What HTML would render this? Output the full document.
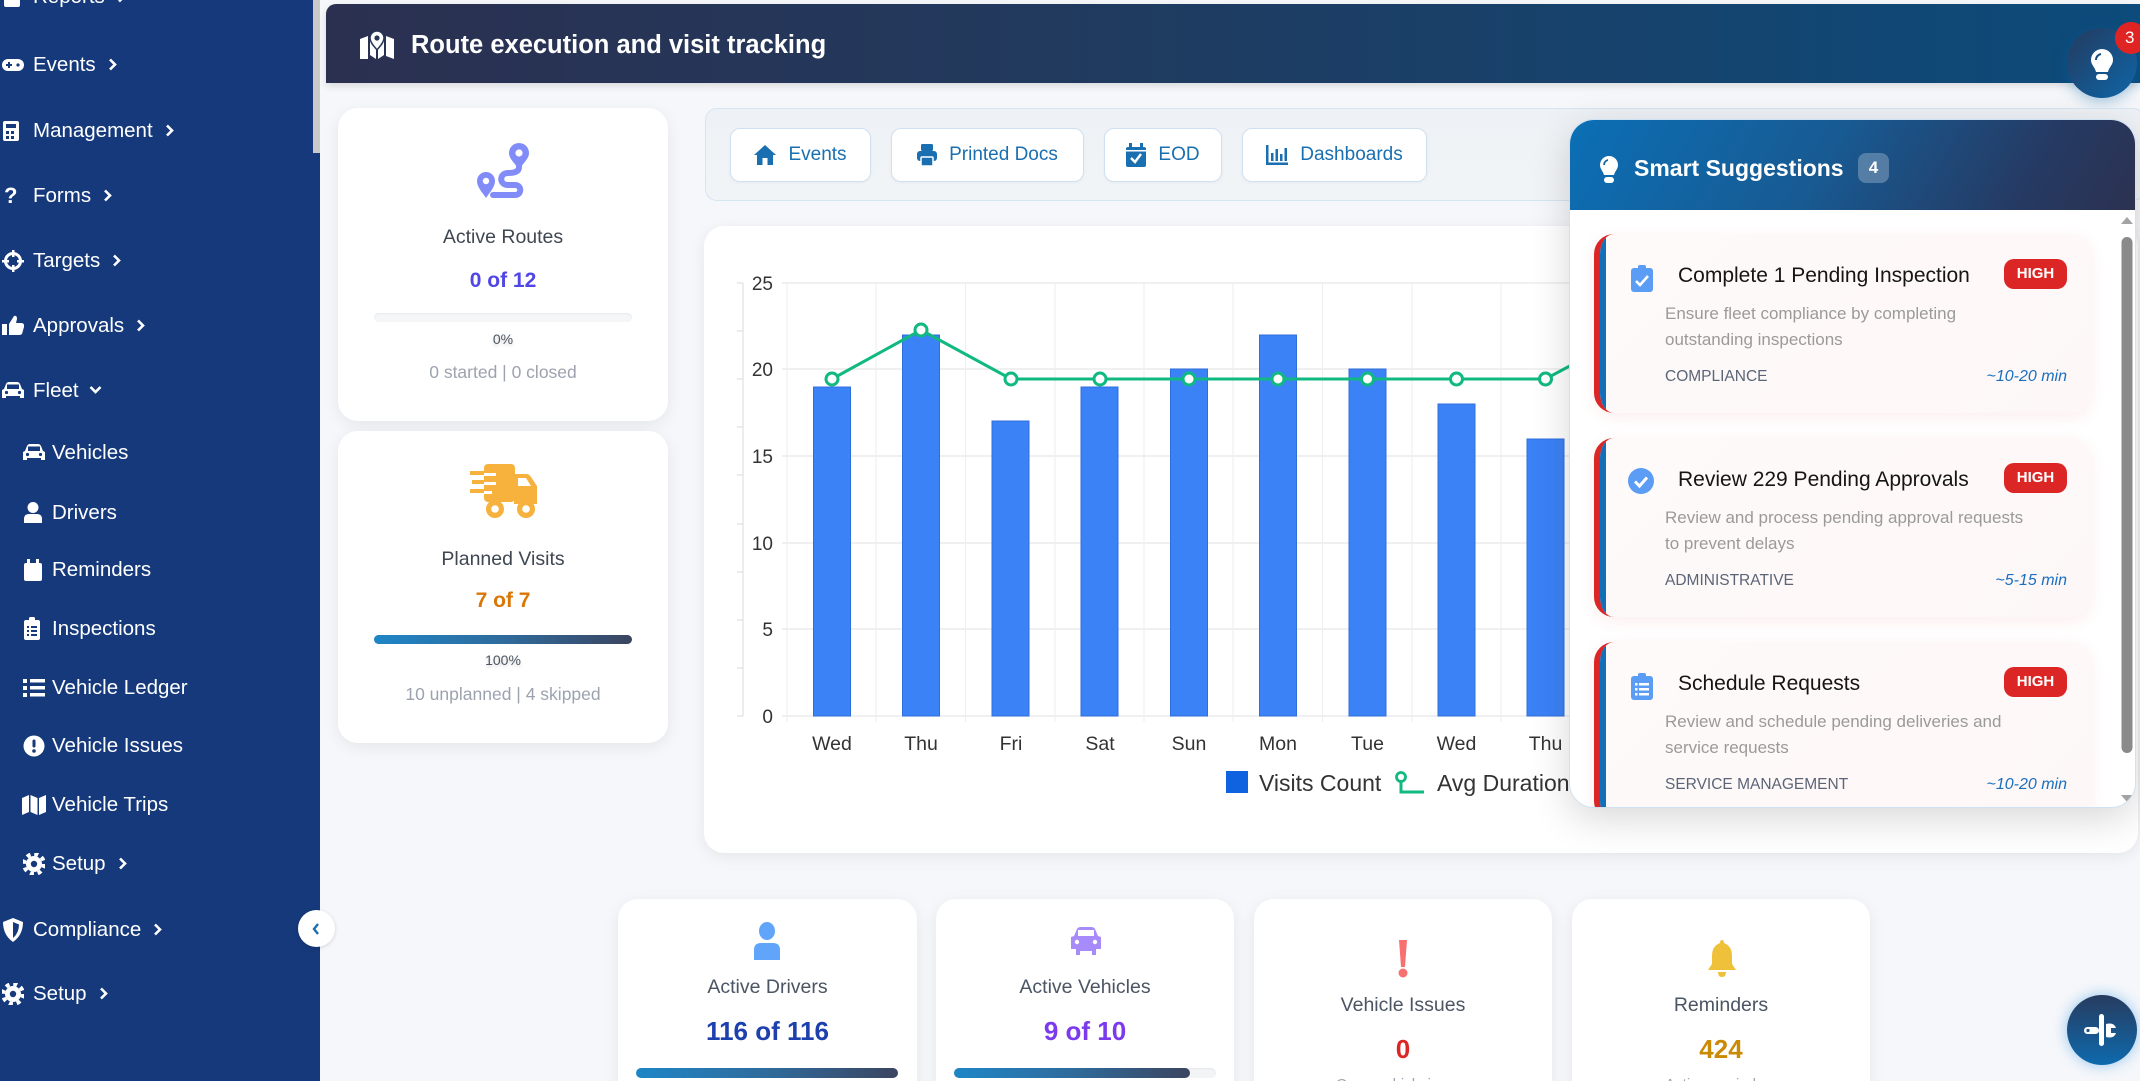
<!DOCTYPE html>
<html><head><meta charset="utf-8">
<style>
*{box-sizing:border-box;margin:0;padding:0}
html,body{width:2140px;height:1081px;overflow:hidden}
body{position:relative;background:#f5f7fa;font-family:"Liberation Sans",Arial,sans-serif;color:#333}
.abs{position:absolute}
#sb{position:absolute;left:0;top:0;width:320px;height:1081px;background:#15397b}
.si{position:absolute;height:28px;line-height:28px;font-size:20.5px;color:#fff;white-space:nowrap}
.si svg.ch{display:inline-block;vertical-align:middle;margin-left:12px;margin-top:-3px}
.ic{position:absolute}
.card{position:absolute;background:#fff;border-radius:20px;box-shadow:0 4px 16px rgba(0,0,0,0.07)}
.ctr{position:absolute;left:0;width:100%;text-align:center;white-space:nowrap}
.btn{position:absolute;top:128px;height:54px;background:#fff;border:1px solid #cfe1f1;border-radius:10px;display:flex;align-items:center;justify-content:center;color:#1a6fb0;font-size:19px;box-shadow:0 1px 3px rgba(0,0,0,0.04)}
.btn svg{margin-right:12px}
.sc{position:absolute;left:24px;width:497px;height:179px;border-radius:20px;background:linear-gradient(135deg,#fffafa,#fdf7f7);box-shadow:0 4px 16px rgba(220,60,60,0.09);border-left:6px solid #dc2626;overflow:hidden}
.sc .bl{position:absolute;left:0;top:0;width:6px;height:100%;background:#1170b8}
.sc .t{position:absolute;left:78px;top:28px;font-size:21px;color:#151515;white-space:nowrap;line-height:28px}
.sc .d{position:absolute;left:65px;top:67px;font-size:17px;color:#9a9a9a;line-height:26px;white-space:nowrap}
.sc .c{position:absolute;left:65px;top:132px;font-size:15.5px;color:#5b6577;line-height:22px}
.sc .tm{position:absolute;right:24px;top:132px;font-size:16px;color:#1a6fc0;font-style:italic;line-height:22px}
.sc .h{position:absolute;left:404px;top:25px;width:63px;height:30px;border-radius:10px;background:#dc2626;color:#fff;font-weight:bold;font-size:15px;line-height:30px;text-align:center}
.sc .ii{position:absolute;left:31px;top:31px}
</style></head><body>

<!-- SIDEBAR -->
<div id="sb">
  <div class="abs" style="left:313px;top:0;width:7px;height:153px;background:#c9c9c9"></div>

  <svg class="ic" style="left:3px;top:-13px" width="19" height="20"><rect x="1" y="0" width="16" height="20" rx="2" fill="#fff"/></svg>
  <div class="si" style="left:33px;top:-17px">Reports<svg class="ch" width="9" height="13"><polyline points="2,1.5 7,6.5 2,11.5" fill="none" stroke="#fff" stroke-width="2.6"/></svg></div>

  <svg class="ic" style="left:2px;top:56px" width="22" height="18"><rect x="0" y="3" width="22" height="12" rx="6" fill="#fff"/><rect x="4" y="8" width="6" height="2" fill="#15397b"/><rect x="6" y="6" width="2" height="6" fill="#15397b"/><circle cx="16" cy="9" r="1.6" fill="#15397b"/></svg>
  <div class="si" style="left:33px;top:51px">Events<svg class="ch" width="9" height="13"><polyline points="2,1.5 7,6.5 2,11.5" fill="none" stroke="#fff" stroke-width="2.6"/></svg></div>

  <svg class="ic" style="left:3px;top:121px" width="17" height="21"><rect x="0" y="0" width="16" height="20" rx="2" fill="#fff"/><rect x="3" y="3" width="10" height="4" fill="#15397b"/><rect x="3" y="10" width="3" height="3" fill="#15397b"/><rect x="8" y="10" width="3" height="3" fill="#15397b"/><rect x="3" y="15" width="3" height="3" fill="#15397b"/><rect x="8" y="15" width="3" height="3" fill="#15397b"/></svg>
  <div class="si" style="left:33px;top:117px">Management<svg class="ch" width="9" height="13"><polyline points="2,1.5 7,6.5 2,11.5" fill="none" stroke="#fff" stroke-width="2.6"/></svg></div>

  <div class="si" style="left:4px;top:182px;font-weight:bold;font-size:22px">?</div>
  <div class="si" style="left:33px;top:182px">Forms<svg class="ch" width="9" height="13"><polyline points="2,1.5 7,6.5 2,11.5" fill="none" stroke="#fff" stroke-width="2.6"/></svg></div>

  <svg class="ic" style="left:2px;top:250px" width="22" height="22"><circle cx="11" cy="11" r="7.5" fill="none" stroke="#fff" stroke-width="3"/><rect x="10" y="0" width="2.5" height="7" fill="#fff"/><rect x="10" y="15" width="2.5" height="7" fill="#fff"/><rect x="0" y="10" width="7" height="2.5" fill="#fff"/><rect x="15" y="10" width="7" height="2.5" fill="#fff"/></svg>
  <div class="si" style="left:33px;top:247px">Targets<svg class="ch" width="9" height="13"><polyline points="2,1.5 7,6.5 2,11.5" fill="none" stroke="#fff" stroke-width="2.6"/></svg></div>

  <svg class="ic" style="left:2px;top:314px" width="22" height="22"><rect x="0" y="10" width="5" height="11" fill="#fff"/><path d="M7 10 L12 2 Q15 1 15 5 L14 9 L20 9 Q23 10 22 13 L20 20 Q19 21 17 21 L7 21 Z" fill="#fff"/></svg>
  <div class="si" style="left:33px;top:312px">Approvals<svg class="ch" width="9" height="13"><polyline points="2,1.5 7,6.5 2,11.5" fill="none" stroke="#fff" stroke-width="2.6"/></svg></div>

  <svg class="ic" style="left:2px;top:382px" width="22" height="18"><path d="M4 2 Q5 0 7 0 L15 0 Q17 0 18 2 L20 7 L22 8 L22 16 L18 16 L18 14 L4 14 L4 16 L0 16 L0 8 L2 7 Z" fill="#fff"/><rect x="5" y="2.5" width="12" height="4.5" fill="#15397b"/><circle cx="4.5" cy="10.5" r="1.6" fill="#15397b"/><circle cx="17.5" cy="10.5" r="1.6" fill="#15397b"/></svg>
  <div class="si" style="left:33px;top:377px">Fleet<svg class="ch" width="13" height="10" style="margin-left:10px"><polyline points="1.5,2 6.5,7 11.5,2" fill="none" stroke="#fff" stroke-width="2.6"/></svg></div>

  <svg class="ic" style="left:23px;top:444px" width="22" height="18"><path d="M4 2 Q5 0 7 0 L15 0 Q17 0 18 2 L20 7 L22 8 L22 16 L18 16 L18 14 L4 14 L4 16 L0 16 L0 8 L2 7 Z" fill="#fff"/><rect x="5" y="2.5" width="12" height="4.5" fill="#15397b"/><circle cx="4.5" cy="10.5" r="1.6" fill="#15397b"/><circle cx="17.5" cy="10.5" r="1.6" fill="#15397b"/></svg>
  <div class="si" style="left:52px;top:439px">Vehicles</div>

  <svg class="ic" style="left:24px;top:502px" width="18" height="21"><circle cx="9" cy="5.5" r="5.5" fill="#fff"/><path d="M0 21 L0 17 Q0 12 5 12 L13 12 Q18 12 18 17 L18 21 Z" fill="#fff"/></svg>
  <div class="si" style="left:52px;top:499px">Drivers</div>

  <svg class="ic" style="left:24px;top:559px" width="18" height="22"><rect x="0" y="4" width="18" height="18" rx="2" fill="#fff"/><rect x="3" y="0" width="3" height="6" fill="#fff"/><rect x="12" y="0" width="3" height="6" fill="#fff"/></svg>
  <div class="si" style="left:52px;top:556px">Reminders</div>

  <svg class="ic" style="left:24px;top:617px" width="16" height="23"><rect x="0" y="3" width="16" height="20" rx="2" fill="#fff"/><rect x="5" y="0" width="6" height="5" rx="1.5" fill="#fff"/><rect x="3" y="9" width="2" height="2" fill="#15397b"/><rect x="7" y="9" width="6" height="2" fill="#15397b"/><rect x="3" y="13" width="2" height="2" fill="#15397b"/><rect x="7" y="13" width="6" height="2" fill="#15397b"/><rect x="3" y="17" width="2" height="2" fill="#15397b"/><rect x="7" y="17" width="6" height="2" fill="#15397b"/></svg>
  <div class="si" style="left:52px;top:615px">Inspections</div>

  <svg class="ic" style="left:23px;top:679px" width="22" height="18"><rect x="0" y="0" width="4" height="4" fill="#fff"/><rect x="7" y="0" width="15" height="3.5" fill="#fff"/><rect x="0" y="7" width="4" height="4" fill="#fff"/><rect x="7" y="7" width="15" height="3.5" fill="#fff"/><rect x="0" y="14" width="4" height="4" fill="#fff"/><rect x="7" y="14" width="15" height="3.5" fill="#fff"/></svg>
  <div class="si" style="left:52px;top:674px">Vehicle Ledger</div>

  <svg class="ic" style="left:23px;top:735px" width="22" height="22"><circle cx="11" cy="11" r="10.5" fill="#fff"/><rect x="9.5" y="4.5" width="3" height="8" rx="1.5" fill="#15397b"/><circle cx="11" cy="16" r="1.8" fill="#15397b"/></svg>
  <div class="si" style="left:52px;top:732px">Vehicle Issues</div>

  <svg class="ic" style="left:22px;top:795px" width="24" height="20"><path d="M0 3 L7 0 L7 17 L0 20 Z M8.5 0 L15.5 3 L15.5 20 L8.5 17 Z M17 3 L24 0 L24 17 L17 20 Z" fill="#fff"/></svg>
  <div class="si" style="left:52px;top:791px">Vehicle Trips</div>

  <svg class="ic" style="left:23px;top:853px" width="22" height="22"><circle cx="11" cy="11" r="8" fill="#fff"/><circle cx="11" cy="11" r="10" fill="none" stroke="#fff" stroke-width="4" stroke-dasharray="4 3.85"/><circle cx="11" cy="11" r="3.2" fill="#15397b"/></svg>
  <div class="si" style="left:52px;top:850px">Setup<svg class="ch" width="9" height="13"><polyline points="2,1.5 7,6.5 2,11.5" fill="none" stroke="#fff" stroke-width="2.6"/></svg></div>

  <svg class="ic" style="left:3px;top:918px" width="20" height="24"><path d="M10 0 L20 4 Q20 17 10 24 Q0 17 0 4 Z" fill="#fff"/><path d="M10 4 L16 6.5 Q16 15 10 20 Z" fill="#15397b"/></svg>
  <div class="si" style="left:33px;top:916px">Compliance<svg class="ch" width="9" height="13"><polyline points="2,1.5 7,6.5 2,11.5" fill="none" stroke="#fff" stroke-width="2.6"/></svg></div>

  <svg class="ic" style="left:2px;top:983px" width="22" height="22"><circle cx="11" cy="11" r="8" fill="#fff"/><circle cx="11" cy="11" r="10" fill="none" stroke="#fff" stroke-width="4" stroke-dasharray="4 3.85"/><circle cx="11" cy="11" r="3.2" fill="#15397b"/></svg>
  <div class="si" style="left:33px;top:980px">Setup<svg class="ch" width="9" height="13"><polyline points="2,1.5 7,6.5 2,11.5" fill="none" stroke="#fff" stroke-width="2.6"/></svg></div>
</div>

<!-- collapse button -->
<div class="abs" style="left:298px;top:910px;width:37px;height:37px;border-radius:50%;background:#fff;box-shadow:0 1px 4px rgba(0,0,0,0.15)"></div>
<svg class="abs" style="left:311px;top:922px" width="10" height="14"><polyline points="7,2 3,7 7,12" fill="none" stroke="#1a6fb0" stroke-width="2.4"/></svg>

<!-- HEADER -->
<div class="abs" style="left:326px;top:4px;width:1814px;height:79px;border-radius:10px 0 0 0;background:linear-gradient(90deg,#2b3050 0%,#213a5e 40%,#17426c 70%,#0c4b7b 100%);box-shadow:0 3px 8px rgba(0,0,0,0.12)"></div>
<svg class="abs" style="left:360px;top:31px" width="34" height="28"><path d="M0 8 L8 5 L8 28 L0 28 Z M10 6 L16 10 L16 28 L10 24 Z M18 10 L24 6 L24 24 L18 28 Z M26 5 L34 8 L34 28 L26 25 Z" fill="#fff"/><path d="M17 0 A7 7 0 0 1 24 7 C24 12 19 16 17 19 C15 16 10 12 10 7 A7 7 0 0 1 17 0 Z" fill="#fff" stroke="#263758" stroke-width="1.5"/><circle cx="17" cy="7" r="2.6" fill="#263758"/></svg>
<div class="abs" style="left:411px;top:29px;font-size:25.5px;font-weight:bold;color:#fff;white-space:nowrap;line-height:32px">Route execution and visit tracking</div>

<!-- lightbulb floating -->
<div class="abs" style="left:2067px;top:28px;width:70px;height:70px;border-radius:50%;background:linear-gradient(135deg,#243a5e,#0e66a8);box-shadow:0 4px 14px rgba(14,102,168,0.35)"></div>
<svg class="abs" style="left:2089px;top:49px" width="26" height="32"><path d="M13 0 A11 11 0 0 1 24 11 C24 16 20 18 19 23 L7 23 C6 18 2 16 2 11 A11 11 0 0 1 13 0 Z" fill="#fff"/><rect x="7" y="25" width="12" height="6" rx="3" fill="#fff"/><path d="M7 11 A6 6 0 0 1 12 5" fill="none" stroke="#1a4f82" stroke-width="2"/></svg>
<div class="abs" style="left:2115px;top:22px;width:32px;height:32px;border-radius:50%;background:#e02424;color:#fff;font-size:17px;line-height:32px;text-align:left;padding-left:10px">3</div>

<!-- LEFT CARDS -->
<div class="card" style="left:338px;top:108px;width:330px;height:313px">
  <svg class="abs" style="left:138px;top:35px" width="54" height="56">
    <path d="M33 10 A10 10 0 1 1 53 10 C53 16 47 20 43 27 C39 20 33 16 33 10 Z" fill="#818cf8"/><circle cx="43" cy="10" r="3.6" fill="#fff"/>
    <path d="M1 38 A9 9 0 1 1 19 38 C19 44 14 49 10 55 C6 49 1 44 1 38 Z" fill="#818cf8"/><circle cx="10" cy="38" r="3.2" fill="#fff"/>
    <path d="M43 24 C43 29 38 30 32 30 C23 30 23 42 32 42 L39 42 C46 42 46 52 39 52 L17 52" fill="none" stroke="#818cf8" stroke-width="6" stroke-linecap="round"/>
  </svg>
  <div class="ctr" style="top:116px;font-size:19.5px;color:#3f4752;line-height:26px">Active Routes</div>
  <div class="ctr" style="top:159px;font-size:21px;font-weight:bold;color:#4f46e5;line-height:28px">0 of 12</div>
  <div class="abs" style="left:36px;top:205px;width:258px;height:9px;border-radius:5px;background:#f5f6f8;box-shadow:inset 0 1px 2px rgba(0,0,0,0.06)"></div>
  <div class="ctr" style="top:222px;font-size:14px;color:#4b5563;line-height:18px;text-shadow:0 2px 3px rgba(0,0,0,0.18)">0%</div>
  <div class="ctr" style="top:252px;font-size:17.5px;color:#9ca3af;line-height:24px">0 started | 0 closed</div>
</div>

<div class="card" style="left:338px;top:431px;width:330px;height:312px">
  <svg class="abs" style="left:132px;top:33px" width="68" height="55">
    <rect x="14" y="0" width="31" height="38" rx="4" fill="#f6b23c"/>
    <path d="M44 10 L57 10 Q59 10 61 13 L67 22 L67 40 L44 40 Z" fill="#f6b23c"/>
    <path d="M48 14 L56 14 L61 22 L48 22 Z" fill="#fff"/>
    <rect x="0" y="7" width="22" height="4" fill="#f6b23c"/>
    <rect x="2" y="16" width="22" height="4" fill="#f6b23c"/><rect x="0" y="25" width="18" height="4" fill="#f6b23c"/>
    <rect x="14" y="9" width="12" height="3" fill="#fff"/><rect x="14" y="18" width="12" height="3" fill="#fff"/><rect x="14" y="27" width="8" height="3" fill="#fff"/>
    <circle cx="25" cy="45" r="9" fill="#f6b23c"/><circle cx="25" cy="45" r="3.8" fill="#fff"/>
    <circle cx="56" cy="45" r="9" fill="#f6b23c"/><circle cx="56" cy="45" r="3.8" fill="#fff"/>
  </svg>
  <div class="ctr" style="top:115px;font-size:19.5px;color:#3f4752;line-height:26px">Planned Visits</div>
  <div class="ctr" style="top:156px;font-size:21px;font-weight:bold;color:#d97706;line-height:28px">7 of 7</div>
  <div class="abs" style="left:36px;top:204px;width:258px;height:9px;border-radius:5px;background:linear-gradient(90deg,#1e86c6,#2f6b9c 50%,#3b4560)"></div>
  <div class="ctr" style="top:220px;font-size:14px;color:#4b5563;line-height:18px;text-shadow:0 2px 3px rgba(0,0,0,0.18)">100%</div>
  <div class="ctr" style="top:251px;font-size:17.5px;color:#9ca3af;line-height:24px">10 unplanned | 4 skipped</div>
</div>

<!-- TOOLBAR -->
<div class="abs" style="left:705px;top:108px;width:1440px;height:93px;border-radius:12px;background:linear-gradient(180deg,#eef2f6,#f1f4f7);border:1px solid #d5e5f2"></div>
<div class="btn" style="left:730px;width:141px">
  <svg width="22" height="20"><path d="M11 0 L22 10 L19 10 L19 20 L13.5 20 L13.5 13 L8.5 13 L8.5 20 L3 20 L3 10 L0 10 Z" fill="#1a6fb0"/></svg>Events</div>
<div class="btn" style="left:891px;width:193px">
  <svg width="20" height="22"><rect x="4" y="0" width="12" height="7" rx="1.5" fill="#1a6fb0"/><rect x="0" y="7" width="20" height="10" rx="3" fill="#1a6fb0"/><rect x="4" y="13" width="12" height="9" rx="1" fill="#1a6fb0" stroke="#fff" stroke-width="1.5"/></svg>Printed Docs</div>
<div class="btn" style="left:1104px;width:118px">
  <svg width="20" height="24"><rect x="0" y="4" width="20" height="20" rx="2" fill="#1a6fb0"/><rect x="3" y="0" width="3" height="6" fill="#1a6fb0"/><rect x="14" y="0" width="3" height="6" fill="#1a6fb0"/><rect x="0" y="7" width="20" height="1.5" fill="#fff"/><polyline points="5,15 9,19 15,11" fill="none" stroke="#fff" stroke-width="2.4"/></svg>EOD</div>
<div class="btn" style="left:1242px;width:185px">
  <svg width="22" height="20"><rect x="0" y="0" width="2.5" height="20" fill="#1a6fb0"/><rect x="0" y="17.5" width="22" height="2.5" fill="#1a6fb0"/><rect x="5" y="8" width="2.5" height="8" fill="#1a6fb0"/><rect x="9.5" y="4" width="2.5" height="12" fill="#1a6fb0"/><rect x="14" y="9" width="2.5" height="7" fill="#1a6fb0"/><rect x="18.5" y="3" width="2.5" height="13" fill="#1a6fb0"/></svg>Dashboards</div>

<!-- CHART CARD -->
<div class="card" style="left:704px;top:226px;width:1434px;height:627px"></div>

<svg class="abs" style="left:0;top:0" width="2140" height="1081" font-family="Liberation Sans, Arial, sans-serif">
  <g stroke="#e8e8e8" stroke-width="1.2">
    <line x1="782" y1="716" x2="2110" y2="716"/>
    <line x1="782" y1="629" x2="2110" y2="629"/>
    <line x1="782" y1="543" x2="2110" y2="543"/>
    <line x1="782" y1="456" x2="2110" y2="456"/>
    <line x1="782" y1="369" x2="2110" y2="369"/>
    <line x1="782" y1="283" x2="2110" y2="283"/>
  </g>
  <g stroke="#eeeeee" stroke-width="1">
    <line x1="787" y1="283" x2="787" y2="722"/>
    <line x1="876" y1="283" x2="876" y2="722"/>
    <line x1="965.5" y1="283" x2="965.5" y2="722"/>
    <line x1="1055" y1="283" x2="1055" y2="722"/>
    <line x1="1144" y1="283" x2="1144" y2="722"/>
    <line x1="1233" y1="283" x2="1233" y2="722"/>
    <line x1="1322.5" y1="283" x2="1322.5" y2="722"/>
    <line x1="1412" y1="283" x2="1412" y2="722"/>
    <line x1="1501" y1="283" x2="1501" y2="722"/>
    <line x1="1590" y1="283" x2="1590" y2="722"/>
    <line x1="1679.5" y1="283" x2="1679.5" y2="722"/>
    <line x1="1769" y1="283" x2="1769" y2="722"/>
    <line x1="1858" y1="283" x2="1858" y2="722"/>
    <line x1="1947" y1="283" x2="1947" y2="722"/>
    <line x1="2036.5" y1="283" x2="2036.5" y2="722"/>
  </g>
  <g stroke="#e0e0e0" stroke-width="1.2">
    <line x1="743" y1="283" x2="743" y2="716"/>
    <line x1="737" y1="283" x2="743" y2="283"/>
    <line x1="737" y1="331" x2="743" y2="331"/>
    <line x1="737" y1="379" x2="743" y2="379"/>
    <line x1="737" y1="427" x2="743" y2="427"/>
    <line x1="737" y1="475" x2="743" y2="475"/>
    <line x1="737" y1="524" x2="743" y2="524"/>
    <line x1="737" y1="572" x2="743" y2="572"/>
    <line x1="737" y1="620" x2="743" y2="620"/>
    <line x1="737" y1="668" x2="743" y2="668"/>
    <line x1="737" y1="716" x2="743" y2="716"/>
  </g>
  <g font-size="19" fill="#333" text-anchor="end">
    <text x="773" y="723">0</text>
    <text x="773" y="636">5</text>
    <text x="773" y="550">10</text>
    <text x="773" y="463">15</text>
    <text x="773" y="376">20</text>
    <text x="773" y="290">25</text>
  </g>
  <g fill="#3b82f6" stroke="#2f6fdc" stroke-width="1">
    <rect x="813.5" y="387" width="37" height="329"/>
    <rect x="902.5" y="335" width="37" height="381"/>
    <rect x="992" y="421" width="37" height="295"/>
    <rect x="1081" y="387" width="37" height="329"/>
    <rect x="1170.5" y="369" width="37" height="347"/>
    <rect x="1259.5" y="335" width="37" height="381"/>
    <rect x="1349" y="369" width="37" height="347"/>
    <rect x="1438" y="404" width="37" height="312"/>
    <rect x="1527" y="439" width="37" height="277"/>
    <rect x="1616.5" y="352" width="37" height="364"/>
    <rect x="1705.5" y="387" width="37" height="329"/>
    <rect x="1795" y="369" width="37" height="347"/>
    <rect x="1884" y="404" width="37" height="312"/>
    <rect x="1973.5" y="335" width="37" height="381"/>
  </g>
  <polyline fill="none" stroke="#10b981" stroke-width="3" points="832,379 921,330 1011,379 1100,379 1189,379 1278,379 1367.5,379 1456.5,379 1545.5,379 1635,331 1724,379 1813.5,379 1902.5,379 1992,379"/>
  <g fill="#fff" stroke="#10b981" stroke-width="3">
    <circle cx="832" cy="379" r="6"/><circle cx="921" cy="330" r="6"/><circle cx="1011" cy="379" r="6"/>
    <circle cx="1100" cy="379" r="6"/><circle cx="1189" cy="379" r="6"/><circle cx="1278" cy="379" r="6"/>
    <circle cx="1367.5" cy="379" r="6"/><circle cx="1456.5" cy="379" r="6"/><circle cx="1545.5" cy="379" r="6"/>
    <circle cx="1635" cy="331" r="6"/>
  </g>
  <g font-size="19.5" fill="#333" text-anchor="middle">
    <text x="832" y="750">Wed</text><text x="921" y="750">Thu</text><text x="1011" y="750">Fri</text>
    <text x="1100" y="750">Sat</text><text x="1189" y="750">Sun</text><text x="1278" y="750">Mon</text>
    <text x="1367.5" y="750">Tue</text><text x="1456.5" y="750">Wed</text><text x="1545.5" y="750">Thu</text>
    <text x="1635" y="750">Fri</text><text x="1724" y="750">Sat</text><text x="1813.5" y="750">Sun</text>
  </g>
  <rect x="1226" y="771" width="22" height="22" fill="#0f63e0"/>
  <text x="1259" y="791" font-size="23" fill="#333">Visits Count</text>
  <circle cx="1401" cy="777" r="4.5" fill="#fff" stroke="#10b981" stroke-width="2.8"/>
  <polyline points="1401,782 1401,792 1424,792" fill="none" stroke="#10b981" stroke-width="3"/>
  <text x="1437" y="791" font-size="23" fill="#333">Avg Duration</text>
</svg>

<!-- BOTTOM CARDS -->
<div class="card" style="left:618px;top:899px;width:299px;height:220px">
  <svg class="abs" style="left:135px;top:23px" width="28" height="38"><ellipse cx="14" cy="9" rx="8" ry="9" fill="#60a5fa"/><path d="M1 38 L1 28 Q1 21 8 21 L20 21 Q27 21 27 28 L27 38 Z" fill="#60a5fa"/></svg>
  <div class="ctr" style="top:75px;font-size:19.5px;color:#4b5563;line-height:26px">Active Drivers</div>
  <div class="ctr" style="top:116px;font-size:26px;font-weight:bold;color:#1e40af;line-height:32px">116 of 116</div>
  <div class="abs" style="left:18px;top:169px;width:262px;height:10px;border-radius:5px;background:linear-gradient(90deg,#1e86c6,#2f6b9c 50%,#3b4560)"></div>
</div>
<div class="card" style="left:936px;top:899px;width:298px;height:220px">
  <svg class="abs" style="left:135px;top:28px" width="30" height="28"><path d="M6 2 Q7 0 10 0 L20 0 Q23 0 24 2 L27 9 L30 10 L30 22 L25 22 L25 28 L21 28 L21 24 L9 24 L9 28 L5 28 L5 22 L0 22 L0 10 L3 9 Z" fill="#a78bfa"/><rect x="7" y="3" width="16" height="6" fill="#fff"/><circle cx="6" cy="15" r="2.2" fill="#fff"/><circle cx="24" cy="15" r="2.2" fill="#fff"/></svg>
  <div class="ctr" style="top:75px;font-size:19.5px;color:#4b5563;line-height:26px">Active Vehicles</div>
  <div class="ctr" style="top:116px;font-size:26px;font-weight:bold;color:#7c3aed;line-height:32px">9 of 10</div>
  <div class="abs" style="left:18px;top:169px;width:262px;height:10px;border-radius:5px;background:#f3f4f6;box-shadow:inset 0 1px 2px rgba(0,0,0,0.06)"></div>
  <div class="abs" style="left:18px;top:169px;width:236px;height:10px;border-radius:5px;background:linear-gradient(90deg,#1e86c6,#2f6b9c 50%,#3b4560)"></div>
</div>
<div class="card" style="left:1254px;top:899px;width:298px;height:220px">
  <svg class="abs" style="left:143px;top:41px" width="12" height="38"><path d="M2 0 L10 0 L8 27 L4 27 Z" fill="#f87171"/><circle cx="6" cy="33" r="4.5" fill="#f87171"/></svg>
  <div class="ctr" style="top:93px;font-size:19.5px;color:#4b5563;line-height:26px">Vehicle Issues</div>
  <div class="ctr" style="top:134px;font-size:26px;font-weight:bold;color:#dc2626;line-height:32px">0</div>
  <div class="ctr" style="top:176px;font-size:15px;color:#9ca3af;line-height:20px">Open vehicle issues</div>
</div>
<div class="card" style="left:1572px;top:899px;width:298px;height:220px">
  <svg class="abs" style="left:136px;top:41px" width="28" height="38"><path d="M14 0 Q16 0 16 3 Q24 6 24 16 L24 24 L28 30 L0 30 L4 24 L4 16 Q4 6 12 3 Q12 0 14 0 Z" fill="#efc13a"/><path d="M10 32 L18 32 Q18 37 14 37 Q10 37 10 32 Z" fill="#efc13a"/></svg>
  <div class="ctr" style="top:93px;font-size:19.5px;color:#4b5563;line-height:26px">Reminders</div>
  <div class="ctr" style="top:134px;font-size:26px;font-weight:bold;color:#ca8a04;line-height:32px">424</div>
  <div class="ctr" style="top:176px;font-size:15px;color:#9ca3af;line-height:20px">Active reminders</div>
</div>

<!-- tools floating button -->
<div class="abs" style="left:2067px;top:995px;width:70px;height:70px;border-radius:50%;background:linear-gradient(180deg,#273b5f,#0e6aad);box-shadow:0 0 14px rgba(30,136,229,0.45)"></div>
<svg class="abs" style="left:2082px;top:1012px" width="40" height="36"><rect x="17" y="2" width="5" height="32" rx="2.5" fill="#fff"/><rect x="2" y="15" width="15" height="7" rx="3.5" fill="#fff"/><circle cx="6" cy="18.5" r="1.6" fill="#1c4f82"/><path d="M24 12 Q32 10 34 16 L29 16 L29 21 L34 21 Q32 27 24 25 Z" fill="#fff"/></svg>

<!-- SMART SUGGESTIONS PANEL -->
<div class="abs" style="left:1569px;top:119px;width:567px;height:689px;border-radius:25px;background:#fff;border:1px solid #cfe2f3;box-shadow:0 10px 40px rgba(0,0,0,0.16);overflow:hidden">
  <div class="abs" style="left:0;top:0;width:567px;height:90px;background:linear-gradient(120deg,#0b6fb5 0%,#185a92 45%,#253a63 80%,#2c3150 100%)"></div>
  <svg class="abs" style="left:30px;top:36px" width="18" height="28"><path d="M9 0 A9 9 0 0 1 18 9 C18 13 15 15 14 19 L4 19 C3 15 0 13 0 9 A9 9 0 0 1 9 0 Z" fill="#fff"/><rect x="4" y="21" width="10" height="6" rx="3" fill="#fff"/><path d="M4 9 A5 5 0 0 1 8 4" fill="none" stroke="#1466a4" stroke-width="1.8"/></svg>
  <div class="abs" style="left:64px;top:33px;font-size:23px;font-weight:bold;color:#fff;line-height:30px;white-space:nowrap">Smart Suggestions</div>
  <div class="abs" style="left:288px;top:33px;width:31px;height:30px;border-radius:8px;background:rgba(255,255,255,0.25);color:#fff;font-weight:bold;font-size:17px;line-height:30px;text-align:center">4</div>

  <svg class="abs" style="left:550px;top:97px" width="14" height="588"><polygon points="7,0 13,7 1,7" fill="#a3a3a3"/><rect x="1.5" y="20" width="11" height="516" rx="5.5" fill="#8a8a8a"/><polygon points="1,578 13,578 7,585" fill="#a3a3a3"/></svg>

  <div class="sc" style="top:114px">
    <div class="bl"></div>
    <svg class="ii" width="22" height="27"><rect x="0" y="3" width="22" height="24" rx="3" fill="#5b9cf5"/><rect x="7" y="0" width="8" height="6" rx="2" fill="#5b9cf5"/><polyline points="5,16 9,20 17,11" fill="none" stroke="#fff" stroke-width="2.6"/></svg>
    <div class="t">Complete 1 Pending Inspection</div>
    <div class="h">HIGH</div>
    <div class="d">Ensure fleet compliance by completing<br>outstanding inspections</div>
    <div class="c">COMPLIANCE</div>
    <div class="tm">~10-20 min</div>
  </div>
  <div class="sc" style="top:318px">
    <div class="bl"></div>
    <svg class="ii" width="26" height="26" style="left:28px;top:30px"><circle cx="13" cy="13" r="13" fill="#5b9cf5"/><polyline points="7,13.5 11.5,18 19,9.5" fill="none" stroke="#fff" stroke-width="3"/></svg>
    <div class="t">Review 229 Pending Approvals</div>
    <div class="h">HIGH</div>
    <div class="d">Review and process pending approval requests<br>to prevent delays</div>
    <div class="c">ADMINISTRATIVE</div>
    <div class="tm">~5-15 min</div>
  </div>
  <div class="sc" style="top:522px">
    <div class="bl"></div>
    <svg class="ii" width="22" height="27"><rect x="0" y="3" width="22" height="24" rx="3" fill="#5b9cf5"/><rect x="7" y="0" width="8" height="6" rx="2" fill="#5b9cf5"/><rect x="4" y="10" width="2.5" height="2.5" fill="#fff"/><rect x="8" y="10" width="10" height="2.5" fill="#fff"/><rect x="4" y="15" width="2.5" height="2.5" fill="#fff"/><rect x="8" y="15" width="10" height="2.5" fill="#fff"/><rect x="4" y="20" width="2.5" height="2.5" fill="#fff"/><rect x="8" y="20" width="10" height="2.5" fill="#fff"/></svg>
    <div class="t">Schedule Requests</div>
    <div class="h">HIGH</div>
    <div class="d">Review and schedule pending deliveries and<br>service requests</div>
    <div class="c">SERVICE MANAGEMENT</div>
    <div class="tm">~10-20 min</div>
  </div>
</div>

</body></html>
